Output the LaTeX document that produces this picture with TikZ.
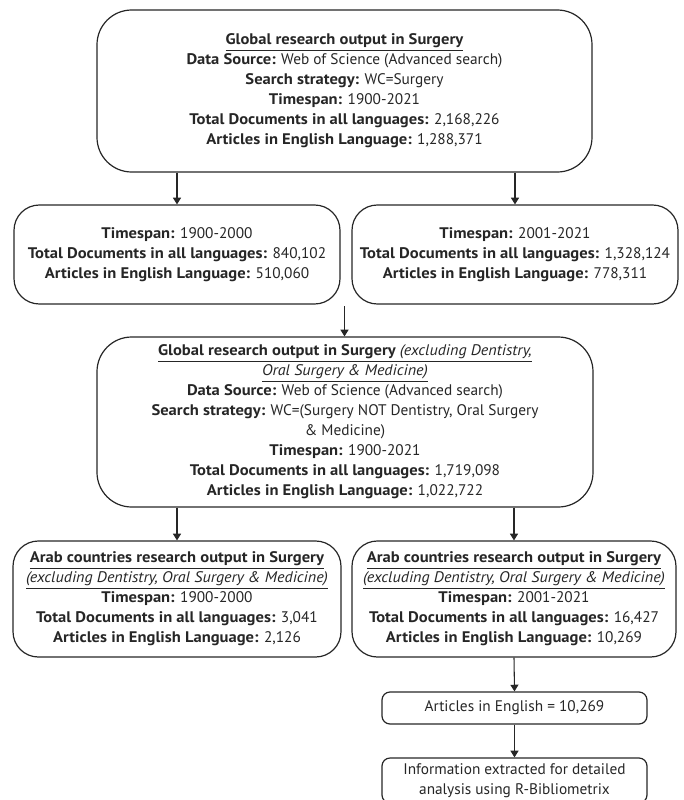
\documentclass[tikz,border=0pt]{standalone}
\usepackage{fontspec}
\setmainfont{PT Sans}[BoldFeatures={FakeStretch=1.08},ItalicFeatures={FakeStretch=1.05}]
\usetikzlibrary{arrows.meta}
\begin{document}
\begin{tikzpicture}[x=0.75pt,y=-0.75pt,
  box/.style={draw=black!85, line width=0.9pt, rounded corners=#1, align=center,
    inner sep=0pt, font=\fontsize{11.5}{15}\selectfont, text=black!85},
  arr/.style={-{Triangle[length=5pt,width=6pt]}, line width=0.8pt, draw=black!85}]
\useasboundingbox (0,0) rectangle (683,800);
\node[box=26pt, minimum width=371.25pt, minimum height=121.5pt] (b1) at (344.5,91)
 {\underline{\textbf{Global research output in Surgery}}\\
  \textbf{Data Source:} Web of Science (Advanced search)\\
  \textbf{Search strategy:} WC=Surgery\\
  \textbf{Timespan:} 1900-2021\\
  \textbf{Total Documents in all languages:} 2,168,226\\
  \textbf{Articles in English Language:} 1,288,371};
\node[box=19pt, minimum width=244.5pt, minimum height=74.25pt] (b2l) at (177,254.5)
 {\textbf{Timespan:} 1900-2000\\
  \textbf{Total Documents in all languages:} 840,102\\
  \textbf{Articles in English Language:} 510,060};
\node[box=19pt, minimum width=244.5pt, minimum height=74.25pt] (b2r) at (515,254.5)
 {\textbf{Timespan:} 2001-2021\\
  \textbf{Total Documents in all languages:} 1,328,124\\
  \textbf{Articles in English Language:} 778,311};
\node[box=26pt, minimum width=372pt, minimum height=127.5pt] (b3) at (345,422)
 {\underline{\textbf{Global research output in Surgery} \textit{(excluding Dentistry,}}\\
  \underline{\textit{Oral Surgery \& Medicine)}}\\
  \textbf{Data Source:} Web of Science (Advanced search)\\
  \textbf{Search strategy:} WC=(Surgery NOT Dentistry, Oral Surgery\\
  \& Medicine)\\
  \textbf{Timespan:} 1900-2021\\
  \textbf{Total Documents in all languages:} 1,719,098\\
  \textbf{Articles in English Language:} 1,022,722};
\node[box=19pt, minimum width=246pt, minimum height=87pt] (b4l) at (177,599)
 {\underline{\textbf{Arab countries research output in Surgery}}\\
  \underline{\textit{(excluding Dentistry, Oral Surgery \& Medicine)}}\\
  \textbf{Timespan:} 1900-2000\\
  \textbf{Total Documents in all languages:} 3,041\\
  \textbf{Articles in English Language:} 2,126};
\node[box=19pt, minimum width=243pt, minimum height=87pt] (b4r) at (514,599)
 {\underline{\textbf{Arab countries research output in Surgery}}\\
  \underline{\textit{(excluding Dentistry, Oral Surgery \& Medicine)}}\\
  \textbf{Timespan:} 2001-2021\\
  \textbf{Total Documents in all languages:} 16,427\\
  \textbf{Articles in English Language:} 10,269};
\node[box=6pt, minimum width=198.75pt, minimum height=24pt] (b5) at (514.5,708)
 {Articles in English = 10,269};
\node[box=6pt, minimum width=198.75pt, minimum height=33.75pt] (b6) at (514.5,780.5)
 {Information extracted for detailed\\analysis using R-Bibliometrix};
\coordinate (a0) at (344.5,306);
\draw[arr] (b1.south -| b2l.north) -- (b2l.north);
\draw[arr] (b1.south -| b2r.north) -- (b2r.north);
\draw[arr] (a0) -- (a0 |- b3.north);
\draw[arr] (b3.south -| b4l.north) -- (b4l.north);
\draw[arr] (b3.south -| b4r.north) -- (b4r.north);
\draw[arr] (b4r.south) -- (b5.north);
\draw[arr] (b5.south) -- (b6.north);
\end{tikzpicture}
\end{document}
